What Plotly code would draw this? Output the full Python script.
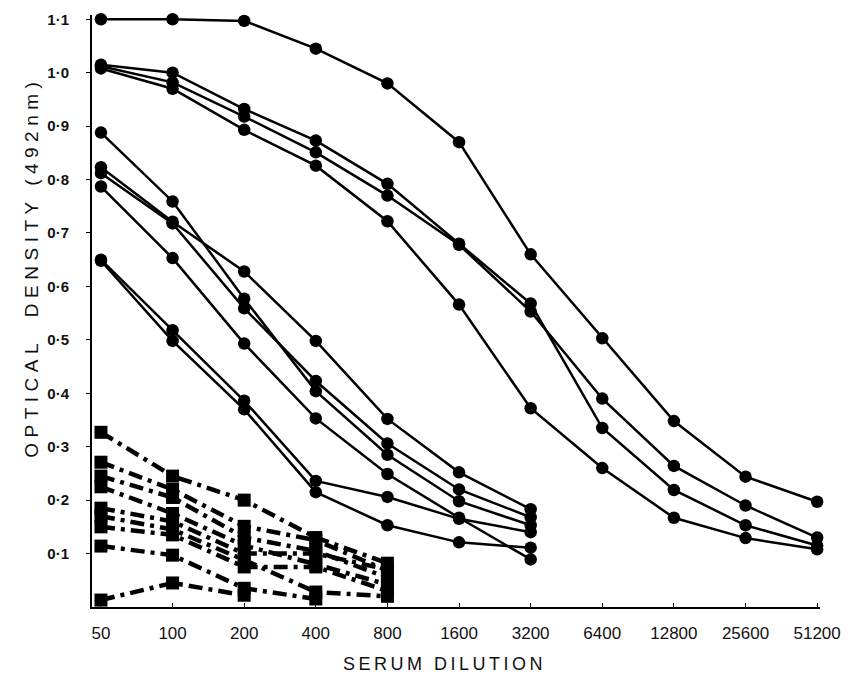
import plotly.graph_objects as go

# ---------------- data ----------------
dilutions = [50, 100, 200, 400, 800, 1600, 3200, 6400, 12800, 25600, 51200]
dilution_labels = ["50", "100", "200", "400", "800", "1600", "3200", "6400", "12800", "25600", "51200"]

od_ticks = [0.1, 0.2, 0.3, 0.4, 0.5, 0.6, 0.7, 0.8, 0.9, 1.0, 1.1]
od_tick_labels = ["0·1", "0·2", "0·3", "0·4", "0·5", "0·6", "0·7", "0·8", "0·9", "1·0", "1·1"]

# solid curves with circles, full dilution range
serum_a1 = [1.100, 1.100, 1.097, 1.045, 0.980, 0.870, 0.660, 0.503, 0.348, 0.244, 0.197]
serum_a2 = [1.015, 1.000, 0.932, 0.873, 0.792, 0.680, 0.568, 0.335, 0.219, 0.153, 0.115]
serum_a3 = [1.012, 0.982, 0.918, 0.851, 0.770, 0.678, 0.553, 0.390, 0.264, 0.190, 0.130]
serum_a4 = [1.008, 0.970, 0.893, 0.826, 0.722, 0.566, 0.372, 0.260, 0.167, 0.129, 0.108]

# solid curves with circles, up to 1:3200
serum_b1 = [0.888, 0.759, 0.577, 0.404, 0.285, 0.198, 0.153]
serum_b2 = [0.823, 0.721, 0.628, 0.498, 0.352, 0.252, 0.183]
serum_b3 = [0.812, 0.718, 0.559, 0.423, 0.306, 0.220, 0.168]
serum_b4 = [0.787, 0.653, 0.493, 0.353, 0.249, 0.167, 0.089]
serum_b5 = [0.650, 0.518, 0.386, 0.236, 0.206, 0.165, 0.140]
serum_b6 = [0.648, 0.498, 0.370, 0.215, 0.153, 0.121, 0.111]

# dash-dot curves with squares (controls)
control_1 = [0.327, 0.245, 0.200, 0.130, 0.082]
control_2 = [0.271, 0.220, 0.151, 0.125, 0.068]
control_3 = [0.245, 0.205, 0.130, 0.105, 0.055]
control_4 = [0.225, 0.175, 0.115, 0.080, 0.042]
control_5 = [0.185, 0.160, 0.100, 0.100, 0.070]
control_6 = [0.170, 0.145, 0.088, 0.028, 0.020]
control_7 = [0.150, 0.135, 0.075, 0.075, 0.030]
control_8 = [0.114, 0.097, 0.035, 0.015]
control_9 = [0.013, 0.045, 0.022]

circle_series = [serum_a1, serum_a2, serum_a3, serum_a4,
                 serum_b1, serum_b2, serum_b3, serum_b4, serum_b5, serum_b6]
square_series = [control_1, control_2, control_3, control_4, control_5,
                 control_6, control_7, control_8, control_9]

fig = go.Figure()

for s in square_series:
    fig.add_trace(go.Scatter(
        x=dilutions[:len(s)], y=s, mode="lines+markers",
        line=dict(color="black", width=4.5, dash="14px,6px,4px,6px"),
        marker=dict(symbol="square", size=13, color="black"),
        cliponaxis=False, showlegend=False, hoverinfo="skip"))

for s in circle_series:
    fig.add_trace(go.Scatter(
        x=dilutions[:len(s)], y=s, mode="lines+markers",
        line=dict(color="black", width=2.5),
        marker=dict(symbol="circle", size=12.5, color="black"),
        cliponaxis=False, showlegend=False, hoverinfo="skip"))

L, R, T, B = 92, 26, 11, 77
W, H = 852, 684
pw, ph = W - L - R, H - T - B

fig.update_layout(
    width=W, height=H,
    margin=dict(l=L, r=R, t=T, b=B, pad=0),
    paper_bgcolor="white", plot_bgcolor="white",
    xaxis=dict(
        type="log", range=[1.66134, 4.72131],
        tickvals=dilutions, ticktext=dilution_labels,
        showline=True, linecolor="black", linewidth=1.5,
        ticks="inside", ticklen=4, tickcolor="black", tickwidth=1,
        showgrid=False, zeroline=False,
        tickfont=dict(family="Liberation Sans, Arial, sans-serif", size=17, color="#111"),
        ticklabelstandoff=10,
    ),
    yaxis=dict(
        range=[0, 1.108],
        tickvals=od_ticks, ticktext=od_tick_labels,
        showline=True, linecolor="black", linewidth=2,
        ticks="outside", ticklen=4, tickcolor="black", tickwidth=1,
        showgrid=False, zeroline=False,
        tickfont=dict(family="Liberation Sans, Arial, sans-serif", size=15, color="#111", weight="bold"),
        ticklabelstandoff=14,
    ),
    annotations=[
        dict(text='<span style="letter-spacing:3.5px">SERUM DILUTION</span>',
             xref="paper", yref="paper",
             x=(447 - L) / pw, y=(H - B - 664) / ph, xanchor="center", yanchor="middle",
             showarrow=False,
             font=dict(family="Liberation Sans, Arial, sans-serif", size=18, color="#111")),
        dict(text='<span style="letter-spacing:5.5px">OPTICAL  DENSITY (492nm)</span>',
             xref="paper", yref="paper",
             x=(31 - L) / pw, y=(H - B - 265) / ph, xanchor="center", yanchor="middle",
             textangle=-90, showarrow=False,
             font=dict(family="Liberation Sans, Arial, sans-serif", size=19, color="#111")),
    ],
)

fig.write_html("out.html", config={"displayModeBar": False},
               post_script="document.body.style.margin='0';document.body.style.padding='0';")
